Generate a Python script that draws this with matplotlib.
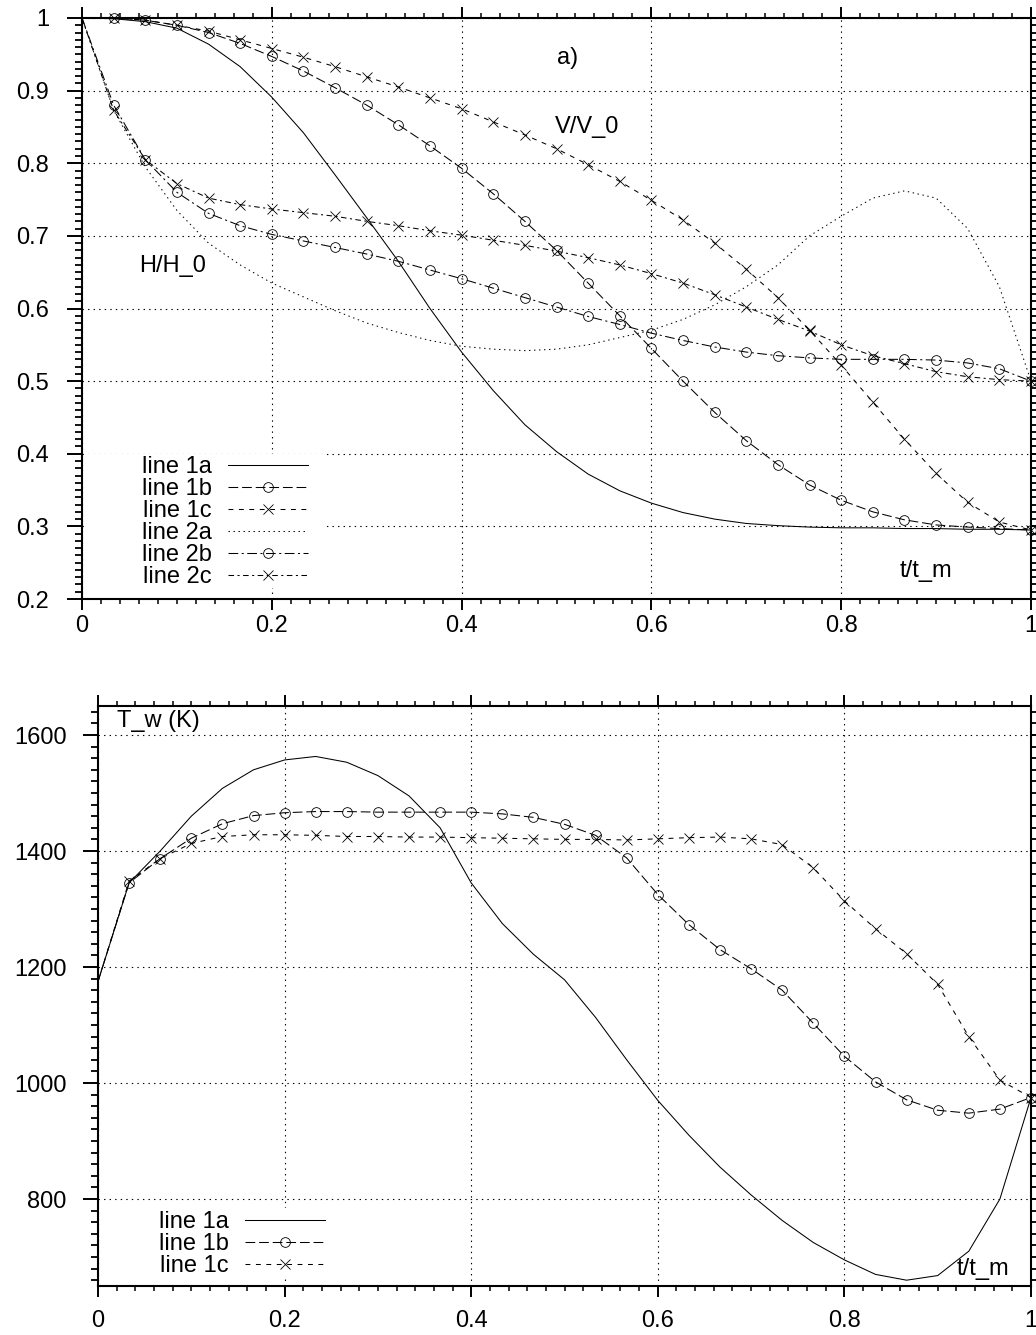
import matplotlib
matplotlib.use("Agg")
import matplotlib.pyplot as plt
from matplotlib.lines import Line2D
from matplotlib.patches import Rectangle
from matplotlib.ticker import MultipleLocator, FixedFormatter, FixedLocator

# ============ CONFIGURATION ============
W, H = 1036, 1335
FONT = 17

plt.rcParams['font.family'] = ['Liberation Sans', 'DejaVu Sans']
plt.rcParams['lines.scale_dashes'] = False

# ============ DATA ============
t = [i / 30 for i in range(31)]

line_1a = [1.0, .999, .995, .986, .964, .933, .891, .842, .784, .725, .665, .6, .54, .487, .44, .403,
           .372, .349, .332, .319, .31, .304, .301, .299, .298, .298, .297, .297, .296, .296, .295]
line_1b = [1.0, 1.0, .997, .99, .98, .965, .947, .927, .904, .88, .853, .824, .793, .758, .72, .68,
           .635, .59, .545, .5, .457, .418, .385, .357, .336, .32, .309, .302, .299, .297, .295]
line_1c = [1.0, 1.0, .997, .99, .982, .97, .958, .946, .933, .919, .905, .89, .875, .857, .839, .82,
           .798, .775, .749, .722, .69, .654, .615, .57, .522, .471, .42, .373, .333, .306, .295]
line_2a = [1.0, .873, .795, .735, .69, .66, .635, .616, .597, .58, .567, .556, .548, .544, .542, .544,
           .55, .56, .57, .585, .605, .63, .66, .70, .727, .752, .762, .752, .71, .63, .5]
line_2b = [1.0, .88, .805, .76, .731, .714, .702, .693, .684, .675, .665, .653, .641, .628, .615, .602,
           .589, .578, .566, .556, .547, .54, .535, .532, .53, .53, .53, .529, .525, .517, .5]
line_2c = [1.0, .873, .805, .772, .752, .743, .737, .732, .727, .72, .714, .707, .701, .694, .687, .679,
           .67, .66, .648, .635, .619, .602, .585, .569, .55, .535, .524, .513, .506, .502, .5]

tw_1a = [1175, 1345, 1400, 1460, 1508, 1540, 1557, 1563, 1553, 1530, 1495, 1440, 1345, 1275, 1222, 1178,
         1113, 1040, 970, 910, 855, 807, 763, 725, 695, 670, 660, 668, 710, 800, 975]
tw_1b = [1175, 1345, 1387, 1422, 1447, 1461, 1466, 1468, 1468, 1467, 1467, 1467, 1467, 1464, 1458, 1446,
         1427, 1388, 1325, 1273, 1230, 1197, 1160, 1103, 1046, 1002, 971, 953, 948, 955, 975]
tw_1c = [1175, 1348, 1387, 1413, 1425, 1428, 1428, 1427, 1425, 1425, 1424, 1424, 1423, 1422, 1421, 1420,
         1420, 1419, 1421, 1423, 1424, 1421, 1411, 1371, 1314, 1266, 1223, 1170, 1080, 1005, 975]

x_ticks = [0, 0.2, 0.4, 0.6, 0.8, 1]
x_labels = ['0', '0.2', '0.4', '0.6', '0.8', '1']
top_yticks = [0.2, 0.3, 0.4, 0.5, 0.6, 0.7, 0.8, 0.9, 1]
top_ylabels = ['0.2', '0.3', '0.4', '0.5', '0.6', '0.7', '0.8', '0.9', '1']
bot_yticks = [800, 1000, 1200, 1400, 1600]
bot_ylabels = ['800', '1000', '1200', '1400', '1600']

# ============ STYLES ============
STYLES = {
    '1a': dict(ls='-', marker=''),
    '1b': dict(ls=(0, (7, 2.8)), marker='o'),
    '1c': dict(ls=(0, (3.5, 4)), marker='x'),
    '2a': dict(ls=(0, (1, 2.6)), marker=''),
    '2b': dict(ls=(0, (7, 2.5, 1.5, 2.5)), marker='o'),
    '2c': dict(ls=(0, (4, 2.5, 1.5, 2.5)), marker='x'),
}


# ============ HELPER FUNCTIONS ============
def make_axes(left, right, top, bottom):
    return plt.gcf().add_axes([left / W, 1 - bottom / H, (right - left) / W, (bottom - top) / H])


def draw(ax, y, key):
    st = STYLES[key]
    ax.plot(t, y, color='black', lw=0.75, ls=st['ls'], marker=st['marker'], ms=7, mfc='none',
            mew=0.6, markevery=(1, 1), zorder=3, clip_on=False)


def proxy(key):
    st = STYLES[key]
    return Line2D([], [], color='black', lw=0.75, ls=st['ls'], marker=st['marker'], ms=7, mfc='none', mew=0.6)


def style_axes(ax, yticks, ylabels, yminor, xpad, ypad):
    ax.set_xlim(0, 1)
    ax.xaxis.set_major_locator(FixedLocator(x_ticks))
    ax.xaxis.set_major_formatter(FixedFormatter(x_labels))
    ax.xaxis.set_minor_locator(MultipleLocator(0.02))
    ax.yaxis.set_major_locator(FixedLocator(yticks))
    ax.yaxis.set_major_formatter(FixedFormatter(ylabels))
    ax.yaxis.set_minor_locator(MultipleLocator(yminor))
    ax.tick_params(axis='x', which='major', direction='out', length=8, width=1.4, top=True, pad=xpad, labelsize=FONT)
    ax.tick_params(axis='x', which='minor', direction='out', length=3.6, width=1.1, top=True)
    ax.tick_params(axis='y', which='major', direction='out', length=10.5, width=1.4, right=True, pad=ypad, labelsize=FONT)
    ax.tick_params(axis='y', which='minor', direction='out', length=5, width=1.3, right=True)
    ax.grid(True, which='major', color='black', lw=0.8, ls=(0, (1, 3)))
    ax.set_axisbelow(True)
    for s in ax.spines.values():
        s.set_linewidth(1.5)


def add_legend(ax, keys, right_px, bottom_px, box):
    # white box hides the grid behind the key, like the original
    x0, y0, x1, y1 = box
    ax.add_patch(Rectangle((x0 / W, 1 - y1 / H), (x1 - x0) / W, (y1 - y0) / H, transform=plt.gcf().transFigure,
                           facecolor='white', edgecolor='none', zorder=1.5))
    handles = [proxy(k) for k in keys]
    labels = ['line ' + k for k in keys]
    leg = ax.legend(handles, labels, loc='lower right', bbox_to_anchor=(right_px / W, 1 - bottom_px / H),
                    bbox_transform=plt.gcf().transFigure, numpoints=1, markerfirst=False, fontsize=FONT,
                    handlelength=3.4, handletextpad=0.68, labelspacing=0.0, borderpad=0, borderaxespad=0,
                    frameon=False)
    leg.set_zorder(2.5)


# ============ MAIN SCRIPT ============
fig = plt.figure(figsize=(W / 100, H / 100), dpi=100)

# top panel
ax1 = make_axes(82, 1031, 18, 599)
ax1.set_ylim(0.2, 1)
style_axes(ax1, top_yticks, top_ylabels, 0.01, 3.2, 13)
for y, key in [(line_1a, '1a'), (line_1b, '1b'), (line_1c, '1c'), (line_2a, '2a'), (line_2b, '2b'), (line_2c, '2c')]:
    draw(ax1, y, key)
add_legend(ax1, ['1a', '1b', '1c', '2a', '2b', '2c'], 308, 588, (84, 454, 324, 588))
ax1.text(0.5, 0.945, 'a)', fontsize=FONT, ha='left', va='center')
ax1.text(0.4985, 0.85, 'V/V_0', fontsize=FONT, ha='left', va='center')
ax1.text(0.06, 0.659, 'H/H_0', fontsize=FONT, ha='left', va='center')
ax1.text(0.862, 0.2386, 't/t_m', fontsize=FONT, ha='left', va='center')

# bottom panel
ax2 = make_axes(98, 1031, 706, 1286)
ax2.set_ylim(650, 1650)
style_axes(ax2, bot_yticks, bot_ylabels, 20, 9.5, 12)
for y, key in [(tw_1a, '1a'), (tw_1b, '1b'), (tw_1c, '1c')]:
    draw(ax2, y, key)
add_legend(ax2, ['1a', '1b', '1c'], 325, 1277, (118, 1208, 340, 1277))
ax2.text(0.02, 1624, 'T_w (K)', fontsize=FONT, ha='left', va='center')
ax2.text(0.92, 679, 't/t_m', fontsize=FONT, ha='left', va='center')

fig.savefig('out.png', dpi=100)
